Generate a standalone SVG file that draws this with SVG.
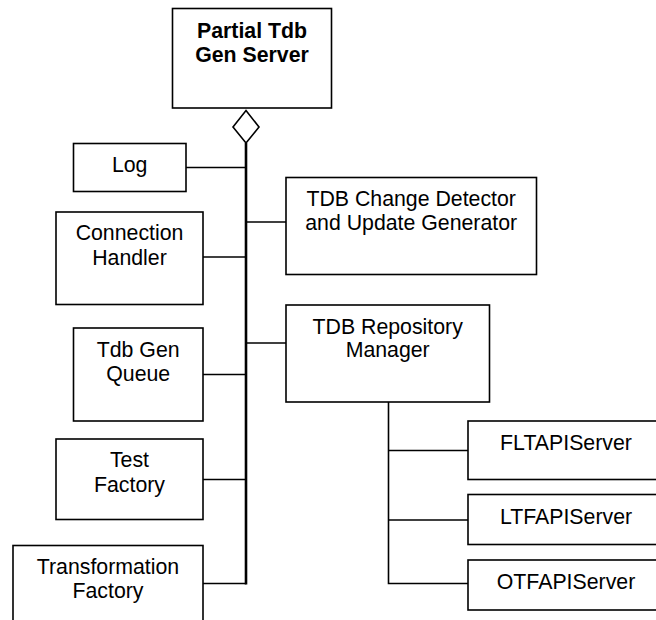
<svg xmlns="http://www.w3.org/2000/svg" width="656" height="620" viewBox="0 0 656 620">
<style>
.box{fill:#fff;stroke:#000;stroke-width:1.6}
.t{font-family:"Liberation Sans",Arial,sans-serif;font-size:21.3px;fill:#000;text-anchor:middle}
.b{font-weight:bold}
.c{stroke:#000;stroke-width:1.6;fill:none}
.spine{stroke:#000;stroke-width:2.6;fill:none}
</style>
<rect width="656" height="620" fill="#fff"/>
<g id="connectors">
<line class="c" x1="186" y1="167.5" x2="246" y2="167.5"/>
<line class="c" x1="246" y1="222" x2="286" y2="222"/>
<line class="c" x1="203" y1="257" x2="246" y2="257"/>
<line class="c" x1="246" y1="343" x2="286" y2="343"/>
<line class="c" x1="203" y1="374.5" x2="246" y2="374.5"/>
<line class="c" x1="203" y1="479.5" x2="246" y2="479.5"/>
<line class="c" x1="203" y1="583.5" x2="246" y2="583.5"/>
<line class="spine" x1="246" y1="143" x2="246" y2="584.5"/>
<polygon class="c" points="246,110.5 259,127 246,143 233,127" fill="#fff" style="fill:#fff"/>
<polyline class="c" points="388.5,402 388.5,583.5 468,583.5"/>
<line class="c" x1="388.5" y1="450.5" x2="468" y2="450.5"/>
<line class="c" x1="388.5" y1="520" x2="468" y2="520"/>
</g>
<g id="partial-tdb-gen-server">
<rect class="box" x="172.5" y="8.5" width="159" height="99.5"/>
<text class="t b" x="252" y="37.5">Partial Tdb</text>
<text class="t b" x="252" y="62">Gen Server</text>
</g>
<g id="log">
<rect class="box" x="73.5" y="143.5" width="112.5" height="48"/>
<text class="t" x="129.7" y="172">Log</text>
</g>
<g id="connection-handler">
<rect class="box" x="56" y="212" width="147" height="92.5"/>
<text class="t" x="129.5" y="240">Connection</text>
<text class="t" x="129.5" y="264.5">Handler</text>
</g>
<g id="tdb-gen-queue">
<rect class="box" x="73.5" y="328" width="129.5" height="93"/>
<text class="t" x="138.2" y="356.5">Tdb Gen</text>
<text class="t" x="138.2" y="381">Queue</text>
</g>
<g id="test-factory">
<rect class="box" x="56" y="439" width="147" height="80.5"/>
<text class="t" x="129.5" y="467">Test</text>
<text class="t" x="129.5" y="491.5">Factory</text>
</g>
<g id="transformation-factory">
<rect class="box" x="13" y="545.5" width="190" height="90"/>
<text class="t" x="108" y="574">Transformation</text>
<text class="t" x="108" y="598">Factory</text>
</g>
<g id="tdb-change-detector">
<rect class="box" x="286" y="177.5" width="250.5" height="97"/>
<text class="t" x="411.2" y="205.5">TDB Change Detector</text>
<text class="t" x="411.2" y="230">and Update Generator</text>
</g>
<g id="tdb-repository-manager">
<rect class="box" x="286" y="305" width="203.5" height="97"/>
<text class="t" x="387.7" y="333.5">TDB Repository</text>
<text class="t" x="387.7" y="357">Manager</text>
</g>
<g id="fltapiserver">
<rect class="box" x="468" y="421" width="200" height="58.5"/>
<text class="t" x="566" y="450">FLTAPIServer</text>
</g>
<g id="ltfapiserver">
<rect class="box" x="468" y="494.5" width="200" height="50"/>
<text class="t" x="566" y="523.5">LTFAPIServer</text>
</g>
<g id="otfapiserver">
<rect class="box" x="468" y="560" width="200" height="50"/>
<text class="t" x="566" y="589">OTFAPIServer</text>
</g>
</svg>
